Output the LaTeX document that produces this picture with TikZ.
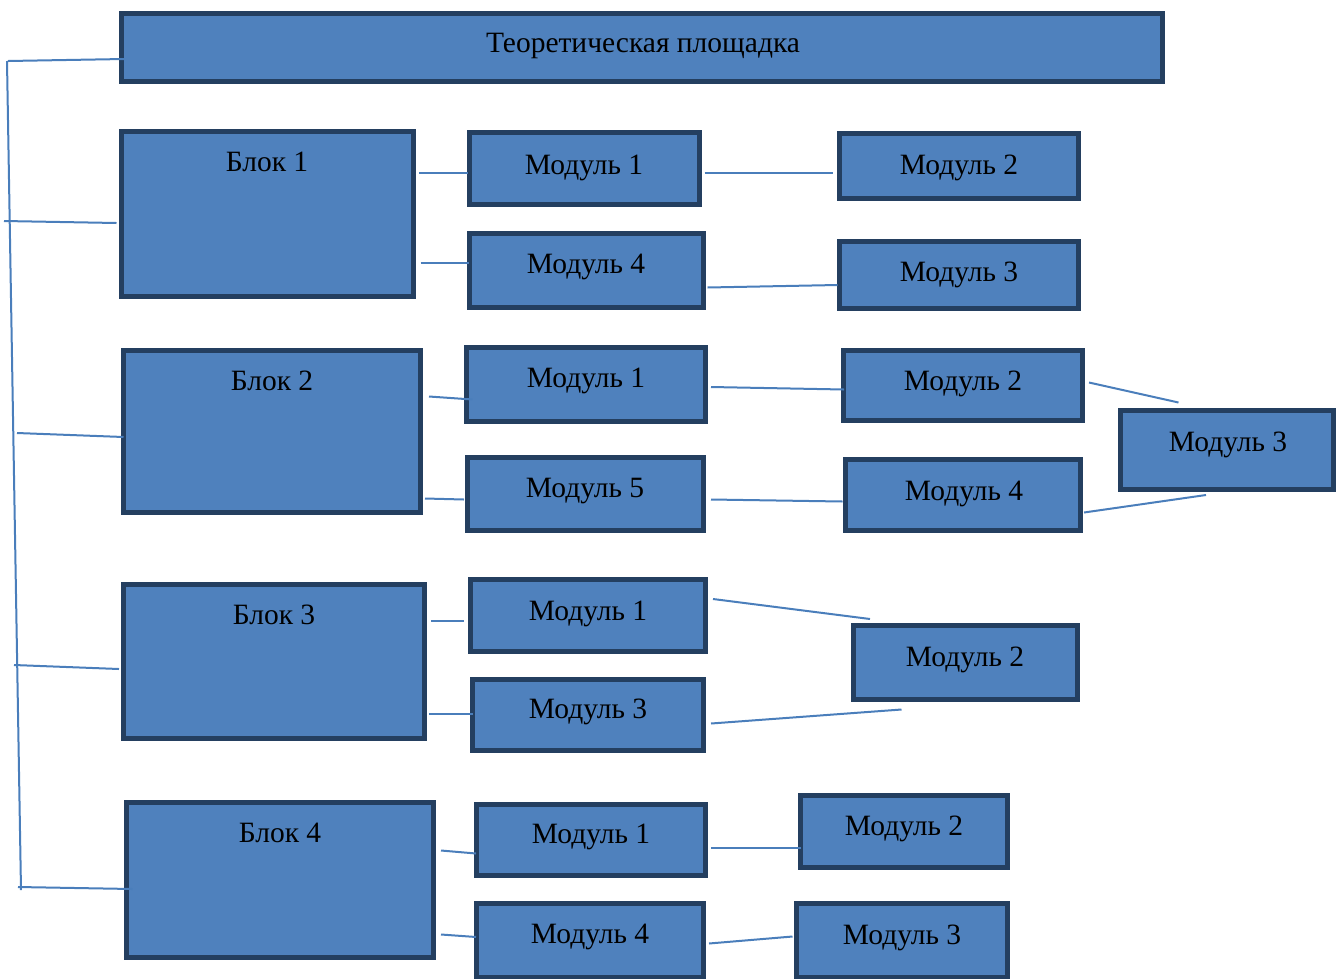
\documentclass[tikz,border=0pt]{standalone}
\usepackage{fontspec}
\setmainfont{Liberation Serif}
\usetikzlibrary{calc}
\definecolor{boxfill}{HTML}{4F81BD}
\definecolor{boxline}{HTML}{243F60}
\definecolor{connline}{HTML}{4A7EBB}
\tikzset{
  box/.style={draw=boxline, fill=boxfill, line width=5pt, rectangle, inner sep=0pt},
  txt/.style={anchor=base, inner sep=0pt, text=black, font=\fontsize{29.5}{34}\selectfont},
  conn/.style={draw=connline, line width=2pt}
}
\newcommand\mkbox[5]{\node[box, minimum width={#4-#2-5}, minimum height={#5-#3-5}] (#1) at ({(#2+#4)/2},{(#3+#5)/2}) {};}
\begin{document}
\begin{tikzpicture}[x=1pt,y=-1pt]
\useasboundingbox (0,0) rectangle (1336,978);
% boxes
\mkbox{T}{119}{11}{1165}{84}
\mkbox{B1}{119}{129}{416}{299}
\mkbox{B2}{121}{348}{423}{515}
\mkbox{B3}{121}{582}{427}{741}
\mkbox{B4}{124}{800}{436}{960}
\mkbox{A1}{467}{130}{702}{207}
\mkbox{A2}{837}{131}{1081}{201}
\mkbox{A4}{467}{231}{706}{310}
\mkbox{A3}{837}{239}{1081}{311}
\mkbox{C1}{464}{345}{708}{424}
\mkbox{C2}{841}{348}{1085}{423}
\mkbox{C5}{465}{455}{706}{533}
\mkbox{C4}{843}{457}{1083}{533}
\mkbox{C3}{1118}{408}{1336}{492}
\mkbox{D1}{468}{577}{708}{654}
\mkbox{D3}{470}{677}{706}{753}
\mkbox{D2}{851}{623}{1080}{702}
\mkbox{E1}{474}{802}{708}{878}
\mkbox{E4}{474}{901}{706}{980}
\mkbox{E2}{798}{793}{1010}{870}
\mkbox{E3}{794}{901}{1010}{980}
% texts
\node[txt] (tT) at (643,52) {Теоретическая площадка};
\node[txt] (tB1) at (267,171) {Блок 1};
\node[txt] (tB2) at (272,390) {Блок 2};
\node[txt] (tB3) at (274,624) {Блок 3};
\node[txt] (tB4) at (280,842) {Блок 4};
\node[txt] (tA1) at (584,174) {Модуль 1};
\node[txt] (tA2) at (959,174) {Модуль 2};
\node[txt] (tA4) at (586,273) {Модуль 4};
\node[txt] (tA3) at (959,281) {Модуль 3};
\node[txt] (tC1) at (586,387) {Модуль 1};
\node[txt] (tC2) at (963,390) {Модуль 2};
\node[txt] (tC5) at (585,497) {Модуль 5};
\node[txt] (tC4) at (964,500) {Модуль 4};
\node[txt] (tC3) at (1228,451) {Модуль 3};
\node[txt] (tD1) at (588,620) {Модуль 1};
\node[txt] (tD3) at (588,718) {Модуль 3};
\node[txt] (tD2) at (965,666) {Модуль 2};
\node[txt] (tE1) at (591,843) {Модуль 1};
\node[txt] (tE4) at (590,943) {Модуль 4};
\node[txt] (tE2) at (904,835) {Модуль 2};
\node[txt] (tE3) at (902,944) {Модуль 3};
% spine
\coordinate (sT) at (7,61);
\coordinate (sB) at (21,890);
\coordinate (s0) at (8,61);
\coordinate (s1) at (4,221);
\coordinate (s2) at (17,433);
\coordinate (s3) at (14,665);
\coordinate (s4) at (18,887);
\draw[conn] (sT) -- (sB);
\draw[conn] (s0) -- ($(T.west)+(5,11.5)$);
\draw[conn] (s1) -- ($(B1.west)+(-2.5,9)$);
\draw[conn] (s2) -- ($(B2.west)+(2.5,5.5)$);
\draw[conn] (s3) -- ($(B3.west)+(-2,7.5)$);
\draw[conn] (s4) -- ($(B4.west)+(8.5,9)$);
% block 1
\draw[conn] ($(B1.east)+(3,-41)$) -- ($(A1.west)+(0.5,4.5)$);
\draw[conn] ($(A1.east)+(2.5,4.5)$) -- ($(A2.west)+(-4.5,7)$);
\draw[conn] ($(B1.east)+(4.5,49)$) -- ($(A4.west)+(2,-7.5)$);
\draw[conn] ($(A4.east)+(1.5,17)$) -- ($(A3.west)+(0.5,10)$);
% block 2
\draw[conn] ($(B2.east)+(6,-35)$) -- ($(C1.west)+(8.5,15)$);
\draw[conn] ($(C1.east)+(3,2.5)$) -- ($(C2.west)+(3,4)$);
\draw[conn] ($(B2.east)+(2,67)$) -- ($(C5.west)+(-1,5.5)$);
\draw[conn] ($(C5.east)+(5,5.5)$) -- ($(C4.west)+(-0.5,6.5)$);
\draw[conn] ($(C2.east)+(4,-3)$) -- ($(C3.north)+(-48.5,-5.5)$);
\draw[conn] ($(C4.east)+(1,17.5)$) -- ($(C3.south)+(-21,3)$);
% block 3
\draw[conn] ($(B3.east)+(4,-40.5)$) -- ($(D1.west)+(-4.5,5.5)$);
\draw[conn] ($(B3.east)+(2,52)$) -- ($(D3.west)+(2.5,-1.5)$);
\draw[conn] ($(D1.east)+(5,-16.5)$) -- ($(D2.north)+(-95.5,-4)$);
\draw[conn] ($(D3.east)+(5,8.5)$) -- ($(D2.south)+(-64,7.5)$);
% block 4
\draw[conn] ($(B4.east)+(5,-29.5)$) -- ($(E1.west)+(2,13.5)$);
\draw[conn] ($(E1.east)+(3,7.5)$) -- ($(E2.west)+(3,16)$);
\draw[conn] ($(B4.east)+(5,54.5)$) -- ($(E4.west)+(2,-3.5)$);
\draw[conn] ($(E4.east)+(3,3)$) -- ($(E3.west)+(-1.5,-4)$);
\end{tikzpicture}
\end{document}
